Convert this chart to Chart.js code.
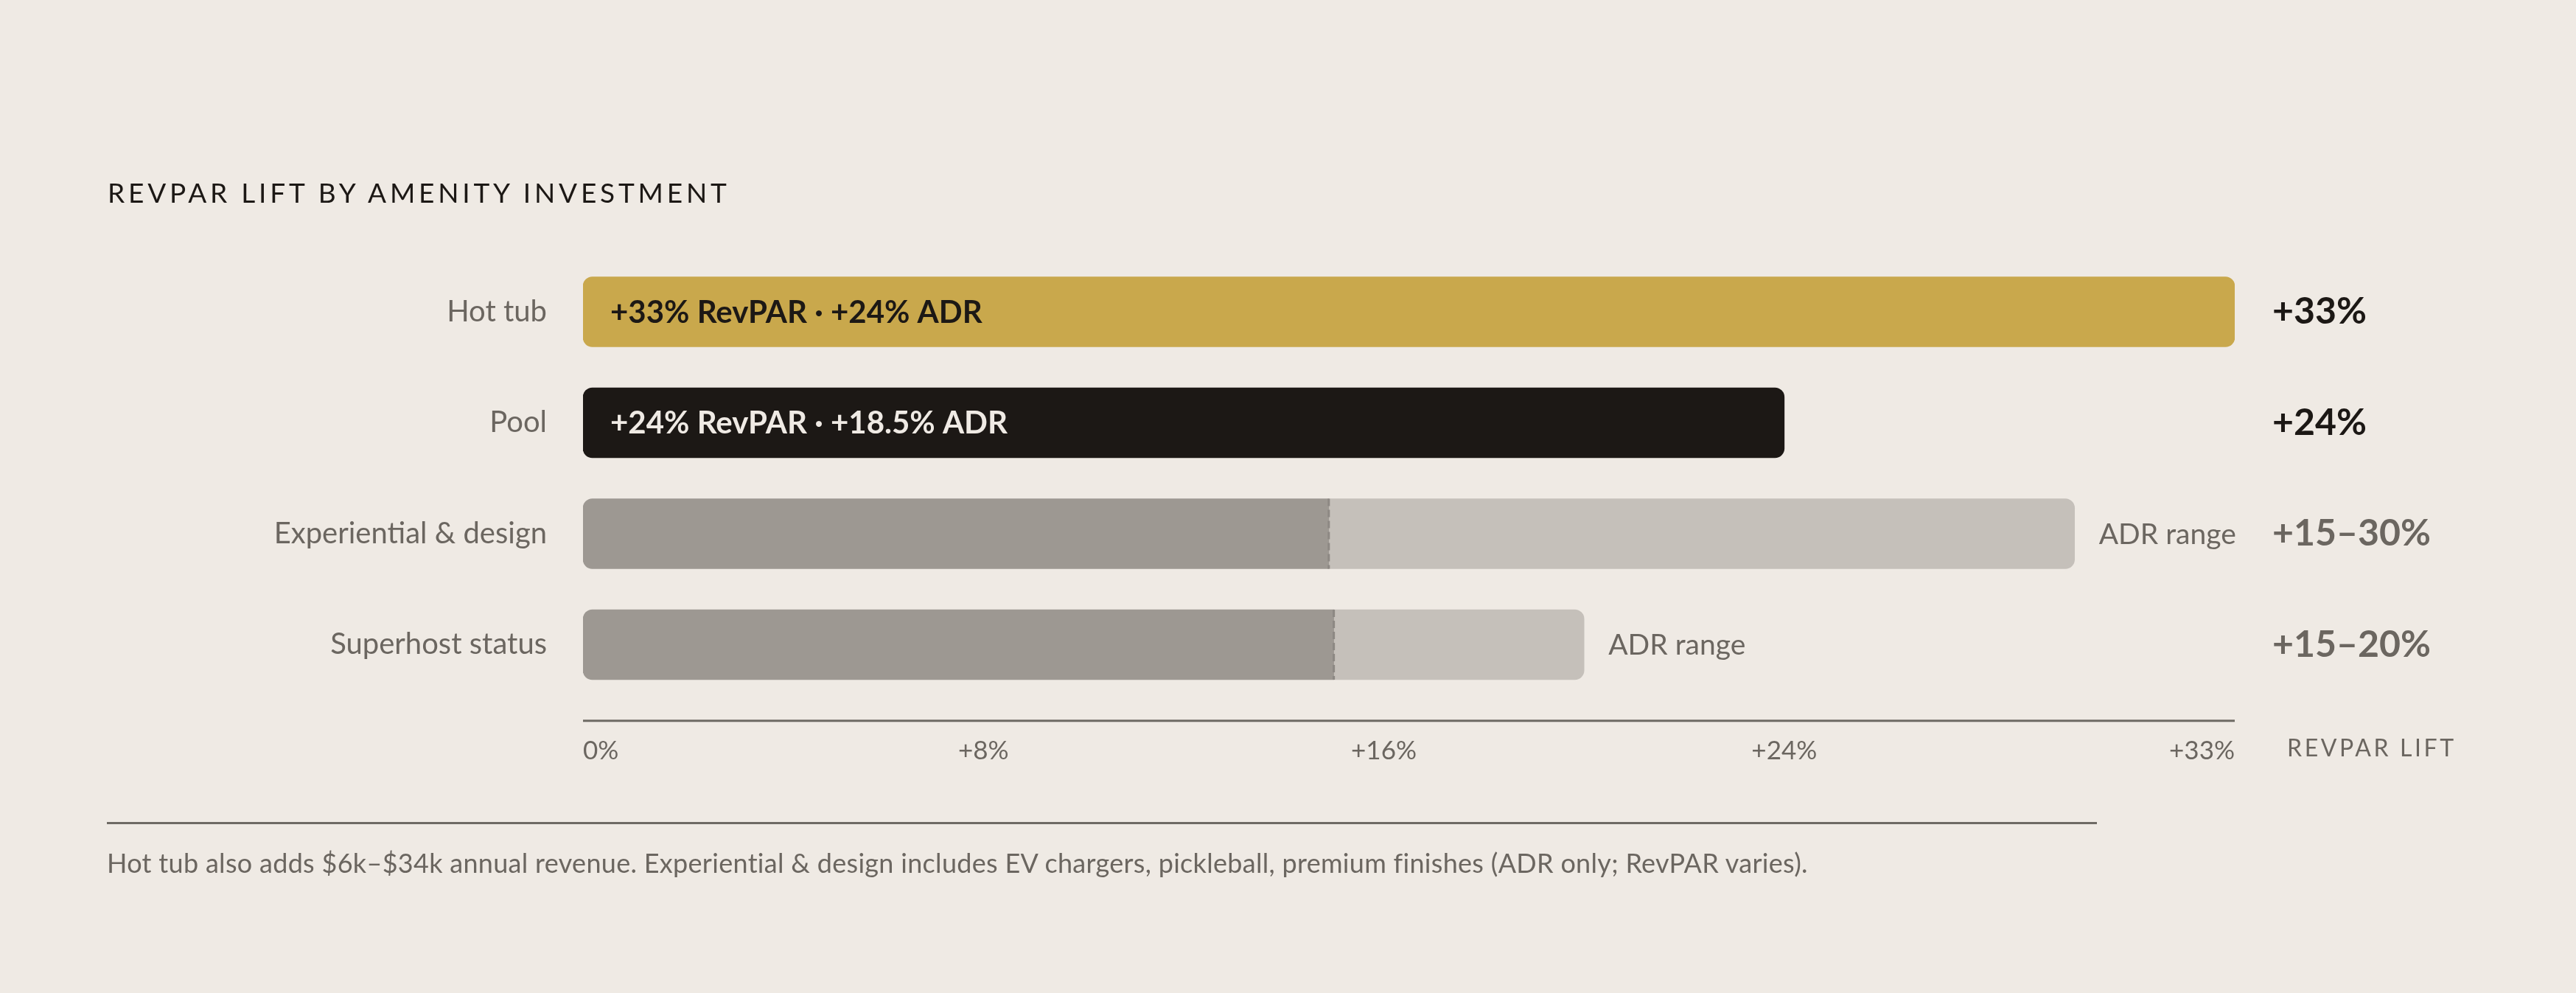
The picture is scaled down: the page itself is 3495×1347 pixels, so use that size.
<!DOCTYPE html>
<html>
<head>
<meta charset="utf-8">
<script src="https://cdn.jsdelivr.net/npm/chart.js@4.4.1/dist/chart.umd.min.js"></script>
<style>
  html, body { margin:0; padding:0; background:#efeae4; }
  body { width:3495px; height:1347px; position:relative; overflow:hidden; font-family: Lato, "Noto Sans", sans-serif; }
  #c { position:absolute; left:0; top:0; }
  .title { position:absolute; left:146px; top:238px; font-size:37px; letter-spacing:4.8px; color:#1c1815; white-space:nowrap; line-height:46px; }
  .axisname { position:absolute; left:3103px; top:994px; font-size:32px; letter-spacing:3.6px; color:#6b6660; white-space:nowrap; line-height:40px; }
  .rule { position:absolute; left:145px; top:1115px; width:2700px; height:3px; background:#6e6a64; }
  .note { position:absolute; left:145px; top:1148px; font-size:36px; letter-spacing:0.3px; color:#6b6660; white-space:nowrap; line-height:44px; }
</style>
</head>
<body>
<canvas id="c" width="3495" height="1347"></canvas>
<div class="title">REVPAR LIFT BY AMENITY INVESTMENT</div>
<div class="axisname">REVPAR LIFT</div>
<div class="rule"></div>
<div class="note">Hot tub also adds $6k–$34k annual revenue. Experiential &amp; design includes EV chargers, pickleball, premium finishes (ADR only; RevPAR varies).</div>
<script>
const categories = ['Hot tub', 'Pool', 'Experiential & design', 'Superhost status'];
const revparLift = [33, 24, null, null];
const adrLow = [null, null, 14.9, 15];
const adrHigh = [null, null, 29.8, 20];
const barTexts = ['+33% RevPAR · +24% ADR', '+24% RevPAR · +18.5% ADR', '', ''];
const valueLabels = ['+33%', '+24%', '+15–30%', '+15–20%'];
const tickValues = [0, 8, 16, 24, 33];
const rangeLabel = 'ADR range';

const GOLD = '#c9a84c', INK = '#1c1815', CREAM = '#efeae4', GRAY = '#6b6660';
const DARKG = '#9d9892', LIGHTG = '#c5c0ba';
const R = 13;

const overlay = {
  id: 'overlay',
  afterDatasetsDraw(chart) {
    const ctx = chart.ctx;
    const xs = chart.scales.x;
    const area = chart.chartArea;
    const m0 = chart.getDatasetMeta(0);
    ctx.save();
    ctx.textBaseline = 'middle';
    ctx.textAlign = 'left';
    ctx.font = 'bold 42px Lato, "Noto Sans", sans-serif';
    m0.data.forEach((el, i) => {
      if (!barTexts[i] || revparLift[i] == null) return;
      ctx.fillStyle = i === 0 ? INK : CREAM;
      ctx.fillText(barTexts[i], el.base + 37, el.y + 1);
    });
    const m2 = chart.getDatasetMeta(2);
    m2.data.forEach((el, i) => {
      if (adrLow[i] == null) return;
      const px = xs.getPixelForValue(adrLow[i]);
      ctx.save();
      ctx.strokeStyle = '#8d8883';
      ctx.lineWidth = 3;
      ctx.setLineDash([10, 5]);
      ctx.beginPath();
      ctx.moveTo(px, el.y - el.height / 2);
      ctx.lineTo(px, el.y + el.height / 2);
      ctx.stroke();
      ctx.restore();
      ctx.font = '39px Lato, "Noto Sans", sans-serif';
      ctx.fillStyle = GRAY;
      ctx.fillText(rangeLabel, xs.getPixelForValue(adrHigh[i]) + 33, el.y + 1);
    });
    ctx.strokeStyle = '#6e6a64';
    ctx.lineWidth = 3;
    ctx.beginPath();
    ctx.moveTo(xs.getPixelForValue(tickValues[0]), area.bottom + 28);
    ctx.lineTo(xs.getPixelForValue(tickValues[tickValues.length - 1]), area.bottom + 28);
    ctx.stroke();
    ctx.restore();
  }
};

new Chart(document.getElementById('c'), {
  type: 'bar',
  data: {
    labels: categories,
    datasets: [
      {
        label: 'RevPAR lift',
        data: revparLift,
        backgroundColor: [GOLD, INK, GOLD, GOLD],
        borderRadius: {topLeft: R, topRight: R, bottomLeft: R, bottomRight: R},
        borderSkipped: false
      },
      {
        label: 'ADR base',
        data: adrLow,
        backgroundColor: DARKG,
        borderRadius: {topLeft: R, bottomLeft: R, topRight: 0, bottomRight: 0},
        borderSkipped: false
      },
      {
        label: 'ADR range',
        data: adrLow.map((lo, i) => lo == null ? null : [lo, adrHigh[i]]),
        backgroundColor: LIGHTG,
        borderRadius: {topLeft: 0, bottomLeft: 0, topRight: R, bottomRight: R},
        borderSkipped: false
      }
    ]
  },
  options: {
    indexAxis: 'y',
    responsive: false,
    devicePixelRatio: 1,
    animation: false,
    grouped: false,
    barThickness: 95,
    layout: { padding: { top: 347.75, bottom: 297.25, left: 0, right: 0 } },
    plugins: { legend: { display: false }, tooltip: { enabled: false } },
    scales: {
      x: {
        type: 'linear',
        min: 0,
        max: 33,
        afterBuildTicks: (s) => { s.ticks = tickValues.map(v => ({ value: v })); },
        afterFit: (s) => { s.height = 100; },
        grid: { display: false, drawTicks: false },
        border: { display: false },
        ticks: {
          align: 'inner',
          padding: 48,
          color: GRAY,
          font: { family: 'Lato', size: 35 },
          callback: (v) => v === 0 ? '0%' : '+' + v + '%'
        }
      },
      y: {
        position: 'left',
        afterFit: (s) => { s.width = 791; },
        grid: { display: false, drawTicks: false },
        border: { display: false },
        ticks: { padding: 49, color: GRAY, font: { family: 'Lato', size: 40 } }
      },
      y2: {
        type: 'category',
        position: 'right',
        labels: categories,
        offset: true,
        afterFit: (s) => { s.width = 3495 - 3032; },
        grid: { display: false, drawTicks: false },
        border: { display: false },
        ticks: {
          padding: 51,
          callback: (v, i) => valueLabels[i],
          color: (c) => c.index < 2 ? INK : GRAY,
          font: { family: 'Lato', size: 50, weight: 'bold' }
        }
      }
    }
  },
  plugins: [overlay]
});
</script>
</body>
</html>
